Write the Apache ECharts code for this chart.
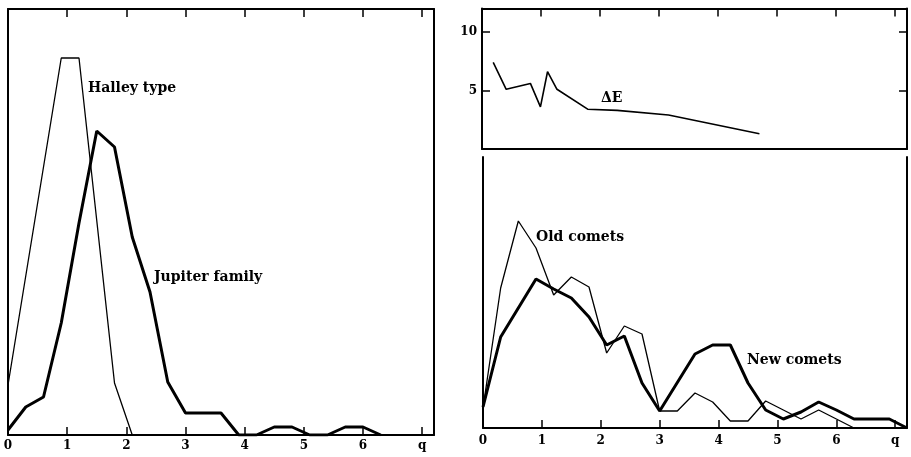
<!DOCTYPE html>
<html><head><meta charset="utf-8">
<script src="https://cdn.jsdelivr.net/npm/echarts@6/dist/echarts.min.js"></script>
<style>html,body{margin:0;padding:0;background:#fff}#c{width:911px;height:457px}</style>
</head><body><div id="c"></div>
<script>
// ---- data ----
const qTickValues = [0, 1, 2, 3, 4, 5, 6, 7];
const qTickLabels = ['0', '1', '2', '3', '4', '5', '6', 'q'];
const deltaETicks = [5, 10];

const halleyQ = [0, 0.9, 1.2, 1.8, 2.1];
const halleyN = [50, 377, 377, 52, 0];

const jupiterQ = [0, 0.3, 0.6, 0.9, 1.2, 1.5, 1.8, 2.1, 2.4, 2.7, 3.0, 3.6, 3.9, 4.2, 4.5, 4.8, 5.1, 5.4, 5.7, 6.0, 6.3];
const jupiterN = [5, 28, 38, 112, 212, 304, 288, 198, 143, 53, 22, 22, 0, 0, 8, 8, 0, 0, 8, 8, 0];

const deltaEQ = [0.19, 0.41, 0.82, 0.99, 1.11, 1.27, 1.79, 2.29, 3.16, 4.7];
const deltaE = [7.4, 5.1, 5.6, 3.6, 6.6, 5.1, 3.4, 3.3, 2.9, 1.3];

const oldQ = [0, 0.3, 0.6, 0.9, 1.2, 1.5, 1.8, 2.1, 2.4, 2.7, 3.0, 3.3, 3.6, 3.9, 4.2, 4.5, 4.8, 5.1, 5.4, 5.7, 6.0, 6.3];
const oldN = [20, 140, 207, 180, 133, 151, 141, 75, 102, 94, 17, 17, 35, 26, 7, 7, 27, 18, 9, 18, 9, 0];

const newQ = [0, 0.3, 0.9, 1.2, 1.5, 1.8, 2.1, 2.4, 2.7, 3.0, 3.6, 3.9, 4.2, 4.5, 4.8, 5.1, 5.4, 5.7, 6.0, 6.3, 6.6, 6.9, 7.2];
const newN = [21, 91, 149, 139, 130, 111, 83, 92, 45, 17, 74, 83, 83, 45, 18, 9, 16, 26, 18, 9, 9, 9, 0];

// ---- chart ----
const FONT = 'DejaVu Serif';
const INK = '#000';
const pair = (xs, ys) => xs.map((x, i) => [x, ys[i]]);

function xAx(grid, pos, opts) {
  return Object.assign({
    type: 'value', gridIndex: grid, position: pos, min: 0, max: 7.2,
    splitLine: { show: false },
    axisLine: { show: true, onZero: false, lineStyle: { color: INK, width: 2 } },
    axisTick: { show: false },
    axisLabel: { show: false }
  }, opts || {});
}
const tickOpts = { show: true, inside: true, length: 8, customValues: [1, 2, 3, 4, 5, 6, 7], lineStyle: { color: INK, width: 1.5 } };
const labelOpts = {
  show: true, customValues: qTickValues, margin: 5,
  formatter: v => qTickLabels[qTickValues.indexOf(Math.round(v))] || '',
  color: INK, fontFamily: FONT, fontWeight: 'bold', fontSize: 12
};
function yAx(grid, pos, max, opts) {
  return Object.assign({
    type: 'value', gridIndex: grid, position: pos, min: 0, max: max,
    splitLine: { show: false },
    axisLine: { show: true, onZero: false, lineStyle: { color: INK, width: 2 } },
    axisTick: { show: false },
    axisLabel: { show: false }
  }, opts || {});
}
function line(name, data, xi, yi, w) {
  return { name, type: 'line', data, xAxisIndex: xi, yAxisIndex: yi, symbol: 'none',
    lineStyle: { color: INK, width: w }, silent: true, animation: false };
}
function txt(text, x, y, size) {
  return { type: 'text', x, y, style: { text, fill: INK, font: 'bold ' + (size || 14) + 'px "' + FONT + '"', textVerticalAlign: 'middle' } };
}

const chart = echarts.init(document.getElementById('c'), null, { renderer: 'canvas' });
chart.setOption({
  animation: false,
  backgroundColor: '#fff',
  grid: [
    { left: 8, top: 9, width: 426, height: 426 },
    { left: 482, top: 8.5, width: 425, height: 140.5 },
    { left: 483, top: 157, width: 424, height: 271 }
  ],
  xAxis: [
    xAx(0, 'bottom', { axisTick: tickOpts, axisLabel: labelOpts }),
    xAx(0, 'top', { axisTick: tickOpts }),
    xAx(1, 'bottom'),
    xAx(1, 'top', { axisTick: tickOpts }),
    xAx(2, 'bottom', { axisTick: tickOpts, axisLabel: Object.assign({}, labelOpts, { margin: 7 }) })
  ],
  yAxis: [
    yAx(0, 'left', 426),
    yAx(0, 'right', 426),
    yAx(1, 'left', 12, {
      axisTick: { show: true, inside: true, length: 8, customValues: deltaETicks, lineStyle: { color: INK, width: 1.5 } },
      axisLabel: { show: true, customValues: deltaETicks, margin: 5, color: INK, fontFamily: FONT, fontWeight: 'bold', fontSize: 12 }
    }),
    yAx(1, 'right', 12, {
      axisTick: { show: true, inside: true, length: 8, customValues: deltaETicks, lineStyle: { color: INK, width: 1.5 } }
    }),
    yAx(2, 'left', 271),
    yAx(2, 'right', 271)
  ],
  series: [
    line('Halley type', pair(halleyQ, halleyN), 0, 0, 1.3),
    line('Jupiter family', pair(jupiterQ, jupiterN), 0, 0, 3),
    line('ΔE', pair(deltaEQ, deltaE), 2, 2, 1.6),
    line('Old comets', pair(oldQ, oldN), 4, 4, 1.3),
    line('New comets', pair(newQ, newN), 4, 4, 3)
  ],
  graphic: [
    txt('Halley type', 88, 88),
    txt('Jupiter family', 154, 277),
    txt('ΔE', 601, 98),
    txt('Old comets', 536, 237),
    txt('New comets', 747, 360)
  ]
});
</script>
</body></html>
